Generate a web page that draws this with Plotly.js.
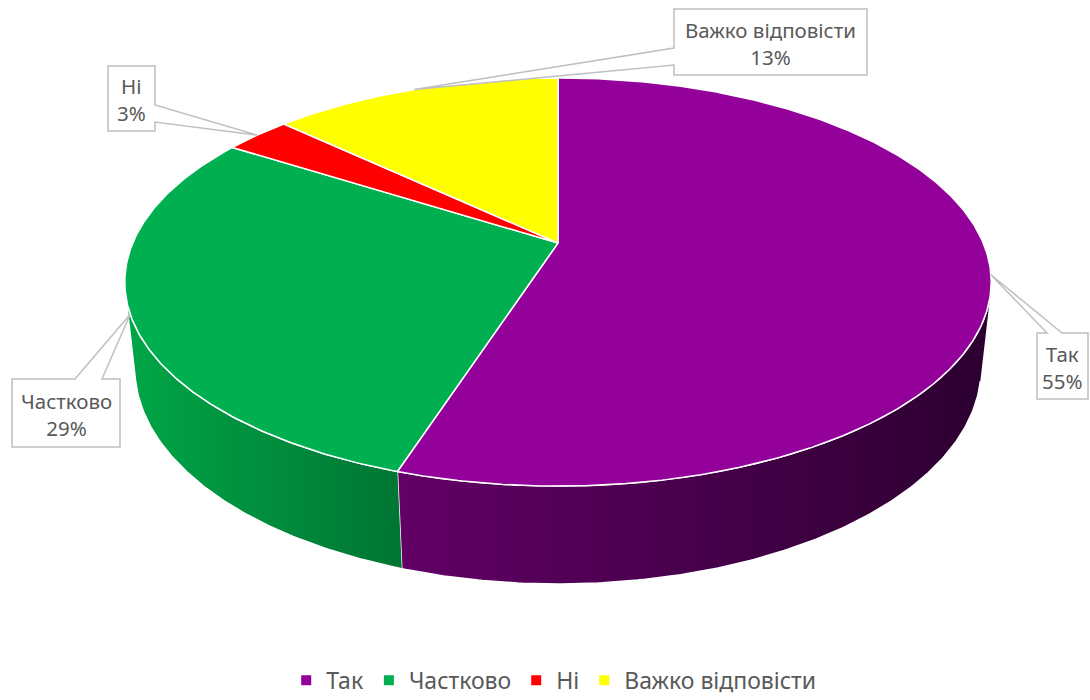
<!DOCTYPE html>
<html><head><meta charset="utf-8">
<script src="https://cdn.plot.ly/plotly-3.0.1.min.js"></script>
<style>html,body{margin:0;padding:0;background:#fff}#chart{width:1090px;height:700px}</style>
</head><body><div id="chart"></div>
<script>
// ---------- data ----------
const categories = ['Так', 'Частково', 'Ні', 'Важко відповісти'];
const values = [55, 29, 3, 13];

// ---------- styles ----------
const topColors = ['#94009a', '#00b050', '#ff0000', '#ffff00'];
const sideScales = [
  [[0, '#620066'], [1, '#2c0030']],
  [[0, '#00a647'], [1, '#007533']],
  [[0, '#d00000'], [1, '#900000']],
  [[0, '#d8d800'], [1, '#a0a000']]
];
const textColor = '#595959';
const fontFamily = 'Noto Sans, Open Sans, sans-serif';

// ---------- geometry (layout) ----------
const cx = 558, cy = 243, F = 1973, D0 = 4.64;
const sPhi = 0.4624, cPhi = Math.sqrt(1 - 0.4624 * 0.4624);
const H = 0.2307;
// callout boxes (pixel layout), wedge attach points on a box edge
const callouts = [
  {x0: 1037, y0: 333, x1: 1088, y1: 399, side: 'top', a: 1047, b: 1062},
  {x0: 12, y0: 379, x1: 120, y1: 447, side: 'top', a: 75, b: 102},
  {x0: 108, y0: 66, x1: 155, y1: 131, side: 'right', a: 105, b: 122},
  {x0: 674, y0: 9, x1: 867, y1: 75, side: 'left', a: 48, b: 65}
];

function proj(u, v, z) {
  const Yc = v * sPhi + z * cPhi;
  const Zc = D0 + v * cPhi - z * sPhi;
  return [cx + F * u / Zc, cy - F * Yc / Zc];
}
function rim(t, z) { return proj(Math.sin(t), Math.cos(t), z); }
function arc(t1, t2, z) {
  const n = Math.max(2, Math.ceil(Math.abs(t2 - t1) / (Math.PI / 360)));
  const pts = [];
  for (let i = 0; i <= n; i++) pts.push(rim(t1 + (t2 - t1) * i / n, z));
  return pts;
}

const total = values.reduce((a, b) => a + b, 0);
const starts = [], ends = [];
let acc = 0;
values.forEach(v => { starts.push(acc / total * 2 * Math.PI); acc += v; ends.push(acc / total * 2 * Math.PI); });

// visible front wall range
const tVis = Math.acos(-1 / (D0 * cPhi));
const visA = tVis, visB = 2 * Math.PI - tVis;

const traces = [];
// side walls
values.forEach((v, i) => {
  const a = Math.max(starts[i], visA), b = Math.min(ends[i], visB);
  if (b <= a) return;
  const pts = arc(a, b, 0).concat(arc(b, a, -H));
  traces.push({
    type: 'scatter', mode: 'lines', x: pts.map(p => p[0]), y: pts.map(p => p[1]),
    fill: 'toself', fillcolor: topColors[i],
    fillgradient: {type: 'horizontal', colorscale: sideScales[i]},
    line: {color: '#ffffff', width: 1.5}, hoverinfo: 'skip', showlegend: false
  });
});
// top faces
values.forEach((v, i) => {
  const c = proj(0, 0, 0);
  const pts = [c].concat(arc(starts[i], ends[i], 0)).concat([c]);
  traces.push({
    type: 'scatter', mode: 'lines', x: pts.map(p => p[0]), y: pts.map(p => p[1]),
    fill: 'toself', fillcolor: topColors[i],
    line: {color: '#ffffff', width: 1.5}, hoverinfo: 'skip', showlegend: false
  });
});
// legend entries
categories.forEach((name, i) => {
  traces.push({
    type: 'scatter', mode: 'markers', x: [null], y: [null], name: name,
    marker: {symbol: 'square', size: 10, color: topColors[i]}, showlegend: true
  });
});

// callouts
const shapes = [], annotations = [];
callouts.forEach((cb, i) => {
  const tip = rim((starts[i] + ends[i]) / 2, 0);
  const T = tip[0] + ' ' + tip[1];
  let d;
  if (cb.side === 'top') {
    d = `M ${cb.x0} ${cb.y0} L ${cb.a} ${cb.y0} L ${T} L ${cb.b} ${cb.y0} L ${cb.x1} ${cb.y0} L ${cb.x1} ${cb.y1} L ${cb.x0} ${cb.y1} Z`;
  } else if (cb.side === 'right') {
    d = `M ${cb.x0} ${cb.y0} L ${cb.x1} ${cb.y0} L ${cb.x1} ${cb.a} L ${T} L ${cb.x1} ${cb.b} L ${cb.x1} ${cb.y1} L ${cb.x0} ${cb.y1} Z`;
  } else {
    d = `M ${cb.x0} ${cb.y0} L ${cb.x1} ${cb.y0} L ${cb.x1} ${cb.y1} L ${cb.x0} ${cb.y1} L ${cb.x0} ${cb.b} L ${T} L ${cb.x0} ${cb.a} Z`;
  }
  shapes.push({type: 'path', xref: 'x', yref: 'y', path: d, fillcolor: '#ffffff',
    line: {color: '#bfbfbf', width: 1.5}, layer: 'above'});
  const pct = Math.round(values[i] / total * 100);
  annotations.push({
    xref: 'x', yref: 'y', x: (cb.x0 + cb.x1) / 2, y: (cb.y0 + cb.y1) / 2 + 1,
    text: categories[i] + '<br>' + pct + '%', showarrow: false,
    xanchor: 'center', yanchor: 'middle', align: 'center',
    font: {family: fontFamily, size: 20.5, color: textColor}
  });
});

const layout = {
  width: 1090, height: 700,
  margin: {l: 0, r: 0, t: 0, b: 0, pad: 0, autoexpand: false},
  paper_bgcolor: '#ffffff', plot_bgcolor: '#ffffff',
  xaxis: {range: [0, 1090], visible: false, fixedrange: true},
  yaxis: {range: [700, 0], visible: false, fixedrange: true},
  showlegend: true,
  legend: {orientation: 'h', x: 0.508, xanchor: 'center', y: 0.028, yanchor: 'middle',
    font: {family: fontFamily, size: 23, color: textColor}, bgcolor: 'rgba(0,0,0,0)'},
  shapes: shapes, annotations: annotations,
  font: {family: fontFamily}
};
Plotly.newPlot('chart', traces, layout, {displayModeBar: false, staticPlot: true});
</script>
</body></html>
